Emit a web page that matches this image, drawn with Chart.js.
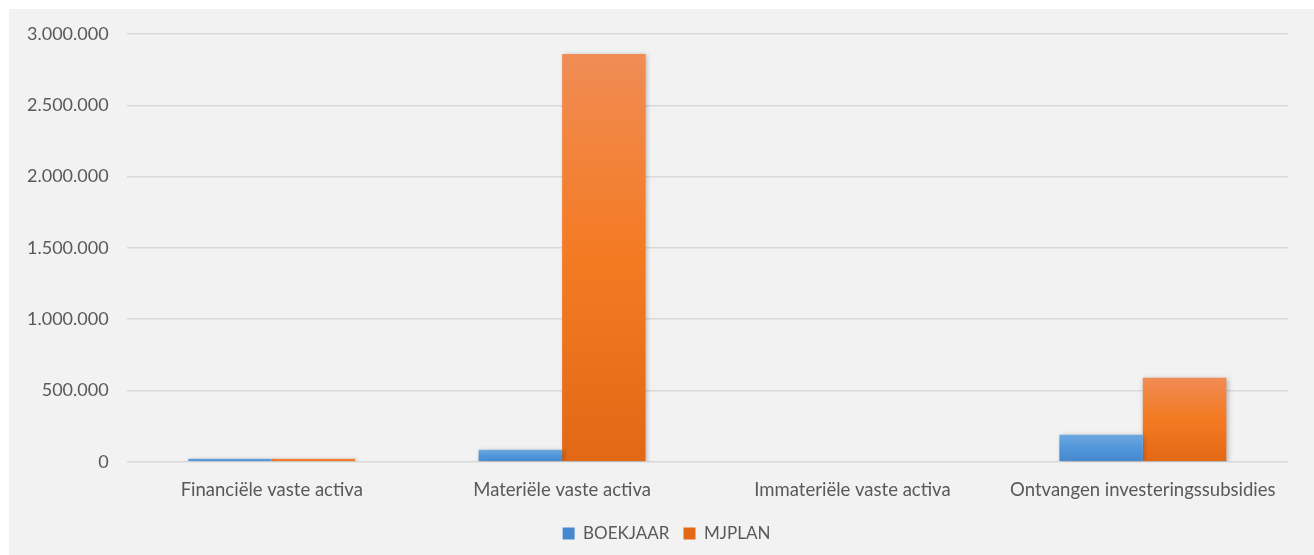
<!DOCTYPE html>
<html>
<head>
<meta charset="utf-8">
<script src="https://cdn.jsdelivr.net/npm/chart.js@4.4.1/dist/chart.umd.min.js"></script>
<style>
  html, body { margin: 0; padding: 0; background: #ffffff; }
  #panel { position: absolute; left: 9px; top: 9px; width: 1305px; height: 546px; background: #f2f2f2; }
  #panel canvas { display: block; }
</style>
</head>
<body>
<div id="panel"><canvas id="chart" width="1305" height="546"></canvas></div>
<script>
// ==================== DATA ====================
const categories = ['Financiële vaste activa', 'Materiële vaste activa', 'Immateriële vaste activa', 'Ontvangen investeringssubsidies'];
const boekjaar = [21000, 84000, 0, 190000];
const mjplan = [22000, 2860000, 0, 590000];
const yTicks = [0, 500000, 1000000, 1500000, 2000000, 2500000, 3000000];

const FONT = 'Lato, "Open Sans", sans-serif';
const TEXT = '#595959';

// per-bar vertical gradient (light top -> dark bottom)
function barGradient(stops, fallback) {
  return (c) => {
    const chart = c.chart;
    const y = chart.scales.y;
    if (!y || c.raw == null) return fallback;
    const top = y.getPixelForValue(c.raw), base = y.getPixelForValue(0);
    if (!isFinite(top) || !isFinite(base) || top === base) return fallback;
    const g = chart.ctx.createLinearGradient(0, top, 0, base);
    stops.forEach(s => g.addColorStop(s[0], s[1]));
    return g;
  };
}

const shadowPlugin = {
  id: 'barShadow',
  afterLayout(chart) {
    // legend sits a bit right of centre in the original
    if (chart.legend) { chart.legend.left += 18; chart.legend.right += 18; }
  },
  beforeDatasetsDraw(chart) {
    const ctx = chart.ctx;
    ctx.save();
    ctx.shadowColor = 'rgba(0,0,0,0.28)';
    ctx.shadowBlur = 5;
    ctx.shadowOffsetX = 1.5;
    ctx.shadowOffsetY = 1.5;
  },
  afterDatasetsDraw(chart) { chart.ctx.restore(); }
};

new Chart(document.getElementById('chart').getContext('2d'), {
  type: 'bar',
  data: {
    labels: categories,
    datasets: [
      { label: 'BOEKJAAR', data: boekjaar,
        backgroundColor: barGradient([[0, '#6ea8df'], [0.5, '#5196da'], [1, '#4688cf']], '#5196da') },
      { label: 'MJPLAN', data: mjplan,
        backgroundColor: barGradient([[0, '#f08c55'], [0.5, '#f47a22'], [1, '#e26816']], '#f47a22') }
    ]
  },
  options: {
    responsive: false,
    animation: false,
    categoryPercentage: 0.575,
    barPercentage: 1,
    layout: { padding: { top: 25, right: 26, left: 0, bottom: 3 } },
    plugins: {
      tooltip: { enabled: false },
      legend: {
        position: 'bottom',
        labels: {
          boxWidth: 12, boxHeight: 12, padding: 14, color: TEXT,
          font: { family: FONT, size: 17 }
        }
      }
    },
    scales: {
      x: {
        grid: { display: false, drawTicks: false },
        border: { display: false },
        ticks: { color: TEXT, padding: 17, font: { family: FONT, size: 18.5 } },
        afterFit: (scale) => { scale.height -= 7; }
      },
      y: {
        min: 0, max: 3000000,
        afterBuildTicks: (axis) => { axis.ticks = yTicks.map(v => ({ value: v })); },
        afterFit: (scale) => { scale.paddingTop = 0; },
        grid: { color: '#d9d9d9', lineWidth: 1.5, drawTicks: false },
        border: { display: false },
        ticks: {
          color: TEXT, padding: 18, font: { family: FONT, size: 18 },
          callback: (v) => v.toLocaleString('de-DE')
        }
      }
    }
  },
  plugins: [shadowPlugin]
});
</script>
</body>
</html>
